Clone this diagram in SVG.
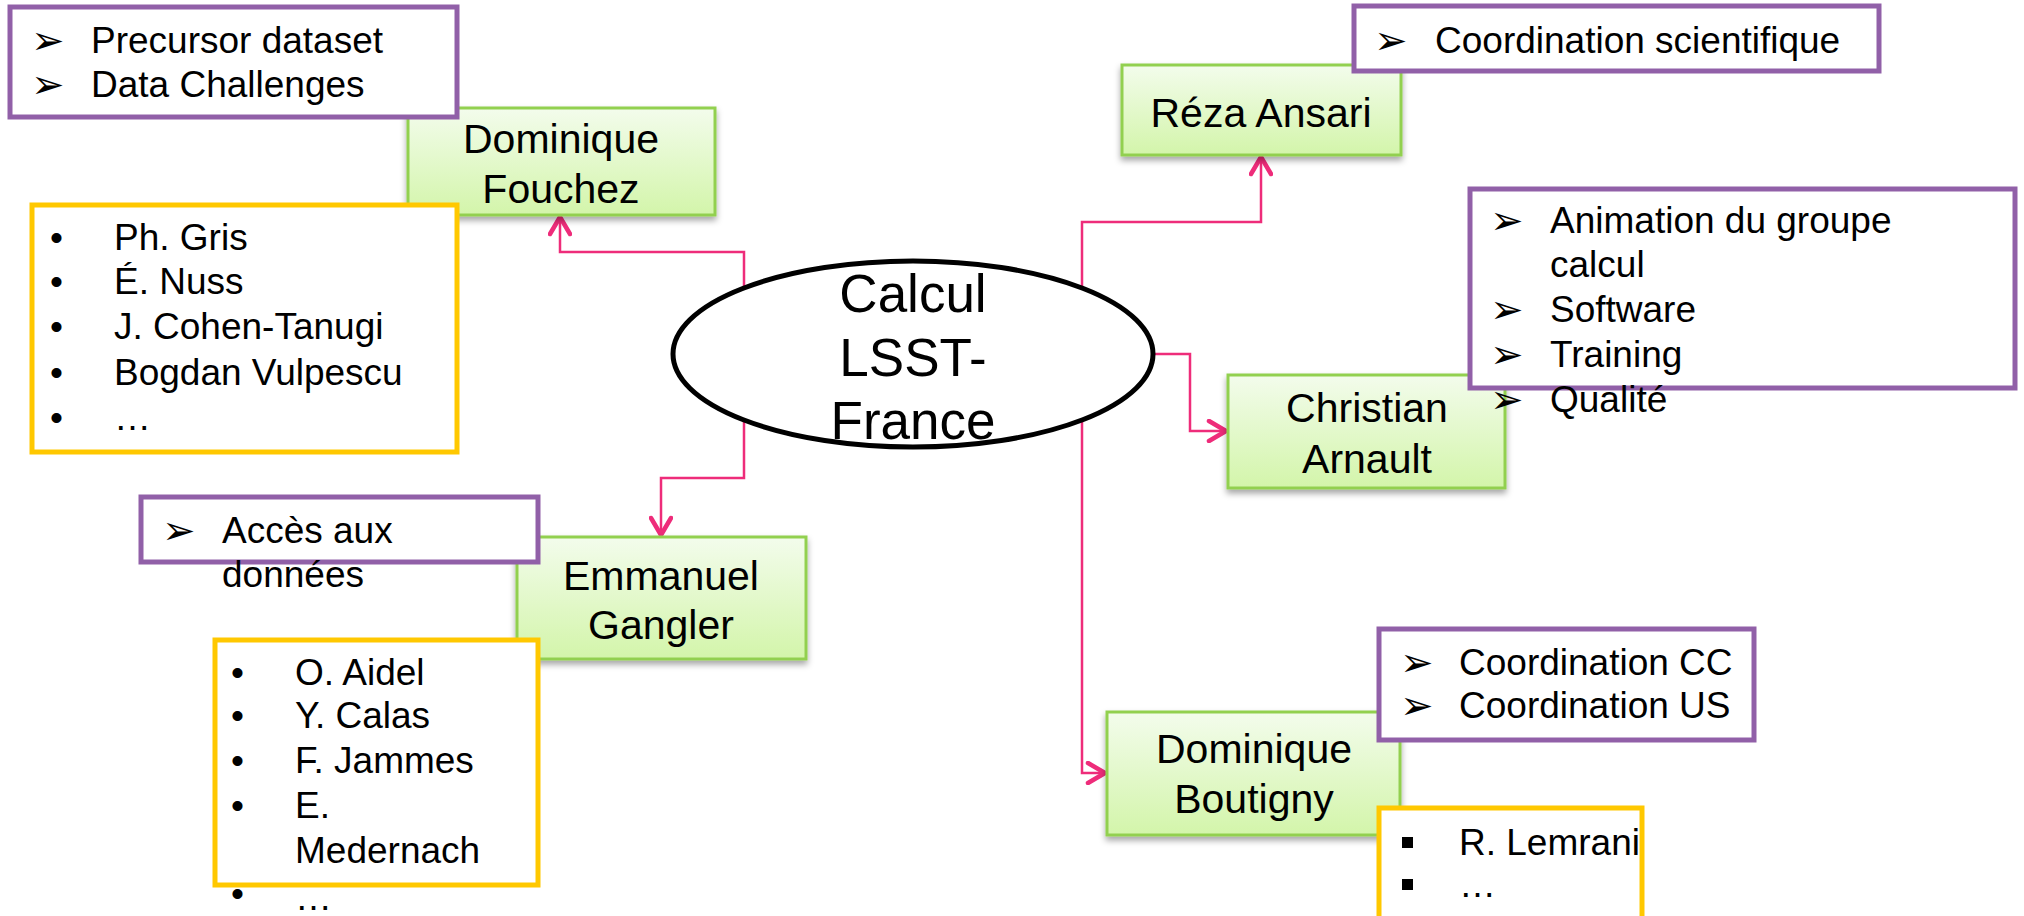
<svg xmlns="http://www.w3.org/2000/svg" width="2024" height="916" viewBox="0 0 2024 916">
<defs>
<linearGradient id="gg" x1="0" y1="0" x2="0" y2="1">
<stop offset="0" stop-color="#F3FCEC"/>
<stop offset="1" stop-color="#D3F5AA"/>
</linearGradient>
<filter id="sh" x="-10%" y="-10%" width="120%" height="130%">
<feDropShadow dx="0" dy="4" stdDeviation="3" flood-color="#000" flood-opacity="0.35"/>
</filter>
<marker id="ar" viewBox="0 0 24 24" refX="21" refY="12" markerWidth="24" markerHeight="24" markerUnits="userSpaceOnUse" orient="auto">
<path d="M4,2 L21,12 L4,22" fill="none" stroke="#EE2C7A" stroke-width="4.5" stroke-linecap="round" stroke-linejoin="round"/>
</marker>
</defs>
<style>
.g{fill:url(#gg);stroke:#92D050;stroke-width:3;filter:url(#sh)}
.p{fill:#fff;stroke:#9160A8;stroke-width:5}
.y{fill:#fff;stroke:#FFC800;stroke-width:5}
.t{font-family:"Liberation Sans",Arial,sans-serif;fill:#000}
.n{font-size:41px;text-anchor:middle}
.b{font-size:37px}
.a{font-family:"DejaVu Sans",sans-serif;font-size:40px;fill:#000}
.c{fill:none;stroke:#EE2C7A;stroke-width:2.5}
</style>
<g id="connectors">
<path class="c" d="M744,288 V252 H560 V217" marker-end="url(#ar)"/>
<path class="c" d="M744,420 V478 H661 V535" marker-end="url(#ar)"/>
<path class="c" d="M1082,288 V222 H1261 V157" marker-end="url(#ar)"/>
<path class="c" d="M1153,354 H1190 V431 H1226" marker-end="url(#ar)"/>
<path class="c" d="M1082,420 V773 H1105" marker-end="url(#ar)"/>
</g>
<g id="center">
<ellipse cx="913" cy="354" rx="240" ry="93" fill="#fff" stroke="#000" stroke-width="5"/>
<text class="t" font-size="53" text-anchor="middle"><tspan x="913" y="312">Calcul</tspan><tspan x="913" y="376">LSST-</tspan><tspan x="913" y="439">France</tspan></text>
</g>
<g id="fouchez">
<rect class="g" x="408" y="108" width="307" height="107"/>
<text class="t n"><tspan x="561" y="153">Dominique</tspan><tspan x="561" y="203">Fouchez</tspan></text>
</g>
<g id="gangler">
<rect class="g" x="517" y="537" width="289" height="122"/>
<text class="t n"><tspan x="661" y="590">Emmanuel</tspan><tspan x="661" y="639">Gangler</tspan></text>
</g>
<g id="ansari">
<rect class="g" x="1122" y="65" width="279" height="90"/>
<text class="t n" x="1261" y="127">Réza Ansari</text>
</g>
<g id="arnault">
<rect class="g" x="1228" y="375" width="277" height="113"/>
<text class="t n"><tspan x="1367" y="422">Christian</tspan><tspan x="1367" y="473">Arnault</tspan></text>
</g>
<g id="boutigny">
<rect class="g" x="1107" y="712" width="293" height="123"/>
<text class="t n"><tspan x="1254" y="763">Dominique</tspan><tspan x="1254" y="813">Boutigny</tspan></text>
</g>
<g id="tasks-fouchez">
<rect class="p" x="10" y="7" width="447" height="110"/>
<text class="a" x="31" y="54">➢</text><text class="a" x="31" y="98">➢</text>
<text class="t b" x="91" y="53">Precursor dataset</text>
<text class="t b" x="91" y="97">Data Challenges</text>
</g>
<g id="team-fouchez">
<rect class="y" x="32" y="205" width="425" height="247"/>
<text class="t b" x="50" y="250">•</text><text class="t b" x="50" y="294">•</text><text class="t b" x="50" y="339">•</text><text class="t b" x="50" y="385">•</text><text class="t b" x="50" y="430">•</text>
<text class="t b" x="114" y="250">Ph. Gris</text>
<text class="t b" x="114" y="294">É. Nuss</text>
<text class="t b" x="114" y="339">J. Cohen-Tanugi</text>
<text class="t b" x="114" y="385">Bogdan Vulpescu</text>
<text class="t b" x="114" y="430">…</text>
</g>
<g id="tasks-gangler">
<rect class="p" x="141" y="497" width="397" height="65"/>
<text class="a" x="162" y="544">➢</text>
<text class="t b"><tspan x="222" y="543">Accès aux</tspan><tspan x="222" y="587">données</tspan></text>
</g>
<g id="team-gangler">
<rect class="y" x="215" y="640" width="323" height="245"/>
<text class="t b" x="231" y="685">•</text><text class="t b" x="231" y="728">•</text><text class="t b" x="231" y="773">•</text><text class="t b" x="231" y="818">•</text><text class="t b" x="231" y="906">•</text>
<text class="t b" x="295" y="685">O. Aidel</text>
<text class="t b" x="295" y="728">Y. Calas</text>
<text class="t b" x="295" y="773">F. Jammes</text>
<text class="t b" x="295" y="818">E.</text>
<text class="t b" x="295" y="863">Medernach</text>
<text class="t b" x="295" y="910">…</text>
</g>
<g id="tasks-ansari">
<rect class="p" x="1354" y="6" width="525" height="65"/>
<text class="a" x="1374" y="54">➢</text>
<text class="t b" x="1435" y="53">Coordination scientifique</text>
</g>
<g id="tasks-arnault">
<rect class="p" x="1470" y="189" width="545" height="199"/>
<text class="a" x="1490" y="234">➢</text><text class="a" x="1490" y="323">➢</text><text class="a" x="1490" y="368">➢</text><text class="a" x="1490" y="413">➢</text>
<text class="t b" x="1550" y="233">Animation du groupe</text>
<text class="t b" x="1550" y="277">calcul</text>
<text class="t b" x="1550" y="322">Software</text>
<text class="t b" x="1550" y="367">Training</text>
<text class="t b" x="1550" y="412">Qualité</text>
</g>
<g id="tasks-boutigny">
<rect class="p" x="1379" y="629" width="375" height="111"/>
<text class="a" x="1400" y="676">➢</text><text class="a" x="1400" y="719">➢</text>
<text class="t b" x="1459" y="675">Coordination CC</text>
<text class="t b" x="1459" y="718">Coordination US</text>
</g>
<g id="team-boutigny">
<rect class="y" x="1379" y="808" width="263" height="130"/>
<rect x="1402" y="837" width="11" height="11" fill="#000"/>
<rect x="1402" y="879" width="11" height="11" fill="#000"/>
<text class="t b" x="1459" y="855">R. Lemrani</text>
<text class="t b" x="1459" y="897">…</text>
</g>
</svg>
